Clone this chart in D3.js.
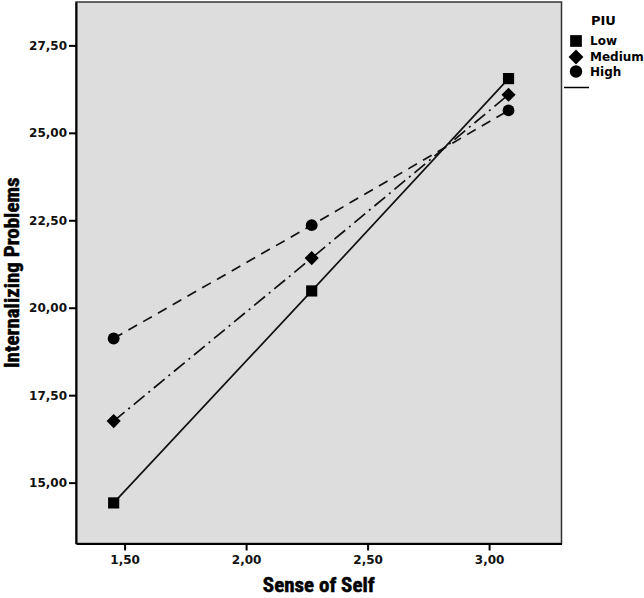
<!DOCTYPE html>
<html><head><meta charset="utf-8">
<script src="https://cdn.jsdelivr.net/npm/d3@7"></script>
<style>
html,body{margin:0;padding:0;background:#fff;}
svg{display:block;}
</style></head>
<body>
<svg id="chart" width="644" height="598"></svg>
<script>
// ---- data ----
const senseOfSelf = [1.455, 2.27, 3.08];
const groups = ["Low", "Medium", "High"];
const lowValues = [14.42, 20.48, 26.55];
const mediumValues = [16.76, 21.42, 26.09];
const highValues = [19.12, 22.36, 25.64];
const xTicks = [1.5, 2.0, 2.5, 3.0];
const yTicks = [15, 17.5, 20, 22.5, 25, 27.5];
const xTitle = "Sense of Self";
const yTitle = "Internalizing Problems";
const legendTitle = "PIU";

const seriesValues = [lowValues, mediumValues, highValues];
const series = groups.map((g, i) => ({
  name: g,
  points: senseOfSelf.map((xv, j) => ({x: xv, y: seriesValues[i][j]}))
}));

const svg = d3.select("#chart");
const pL = 76, pR = 561.5, pT = 2, pB = 543.5;
const x = d3.scaleLinear().domain([1.3, 3.298]).range([pL, pR]);
const y = d3.scaleLinear().domain([13.26, 28.74]).range([pB, pT]);
const fmt = d => d3.format(".2f")(d).replace(".", ",");

// plot background
svg.append("rect").attr("x", pL).attr("y", pT)
  .attr("width", pR - pL).attr("height", pB - pT)
  .attr("fill", "#dddddd").attr("stroke", "#333").attr("stroke-width", 1.5);

const tickFont = "'DejaVu Sans', sans-serif";

// axes
const yAxis = svg.append("g").attr("transform", `translate(${pL},0)`)
  .call(d3.axisLeft(y).tickValues(yTicks).tickFormat(fmt).tickSize(7).tickSizeOuter(0).tickPadding(2));
const xAxis = svg.append("g").attr("transform", `translate(0,${pB})`)
  .call(d3.axisBottom(x).tickValues(xTicks).tickFormat(fmt).tickSize(7).tickSizeOuter(0).tickPadding(5));
[yAxis, xAxis].forEach(a => {
  a.select(".domain").attr("stroke", "#000").attr("stroke-width", 2);
  a.selectAll(".tick line").attr("stroke", "#000").attr("stroke-width", 2);
  a.selectAll(".tick text").attr("fill", "#111")
    .style("font-family", tickFont).style("font-size", "12px").style("font-weight", "bold");
});

// axis titles
const titleFont = "'Liberation Sans Narrow', 'Roboto Condensed', 'Liberation Sans', sans-serif";
svg.append("text").attr("x", (pL + pR) / 2).attr("y", 592)
  .attr("text-anchor", "middle").attr("fill", "#000")
  .attr("stroke", "#000").attr("stroke-width", 0.5)
  .style("font-family", titleFont).style("font-size", "21px").style("font-weight", "bold")
  .text(xTitle);
svg.append("text").attr("transform", `translate(19,${(pT + pB) / 2}) rotate(-90)`)
  .attr("text-anchor", "middle").attr("fill", "#000")
  .attr("stroke", "#000").attr("stroke-width", 0.5)
  .style("font-family", titleFont).style("font-size", "21px").style("font-weight", "bold")
  .text(yTitle);

// lines
const dashes = ["none", "14,5,2,5", "10,7"];
const line = d3.line().x(d => x(d.x)).y(d => y(d.y));
const plot = svg.append("g");
series.forEach((s, i) => {
  plot.append("path").datum(s.points).attr("d", line)
    .attr("fill", "none").attr("stroke", "#111").attr("stroke-width", 1.7)
    .attr("stroke-dasharray", dashes[i]);
});

// markers (diamond = rotated square)
const symbolTypes = [d3.symbolSquare, d3.symbolSquare, d3.symbolCircle];
const symbolRot = [0, 45, 0];
const symbolSizes = [125, 100, 110];
series.forEach((s, i) => {
  plot.selectAll(null).data(s.points).enter().append("path")
    .attr("transform", d => `translate(${x(d.x)},${y(d.y)}) rotate(${symbolRot[i]})`)
    .attr("d", d3.symbol().type(symbolTypes[i]).size(symbolSizes[i]))
    .attr("fill", "#000");
});

// legend
const lg = svg.append("g");
lg.append("text").attr("x", 591).attr("y", 25).attr("fill", "#000")
  .style("font-family", tickFont).style("font-size", "13px").style("font-weight", "bold")
  .text(legendTitle);
const legendY = [41, 57, 71.5];
groups.forEach((g, i) => {
  lg.append("path").attr("transform", `translate(576,${legendY[i]}) rotate(${symbolRot[i]})`)
    .attr("d", d3.symbol().type(symbolTypes[i]).size(symbolSizes[i] * 1.1))
    .attr("fill", "#000");
  lg.append("text").attr("x", 590).attr("y", legendY[i]).attr("dy", "0.36em")
    .attr("fill", "#000")
    .style("font-family", tickFont).style("font-size", "12px").style("font-weight", "bold")
    .text(g);
});
lg.append("line").attr("x1", 564).attr("x2", 589).attr("y1", 87.5).attr("y2", 87.5)
  .attr("stroke", "#000").attr("stroke-width", 1.5);
</script>
</body></html>
